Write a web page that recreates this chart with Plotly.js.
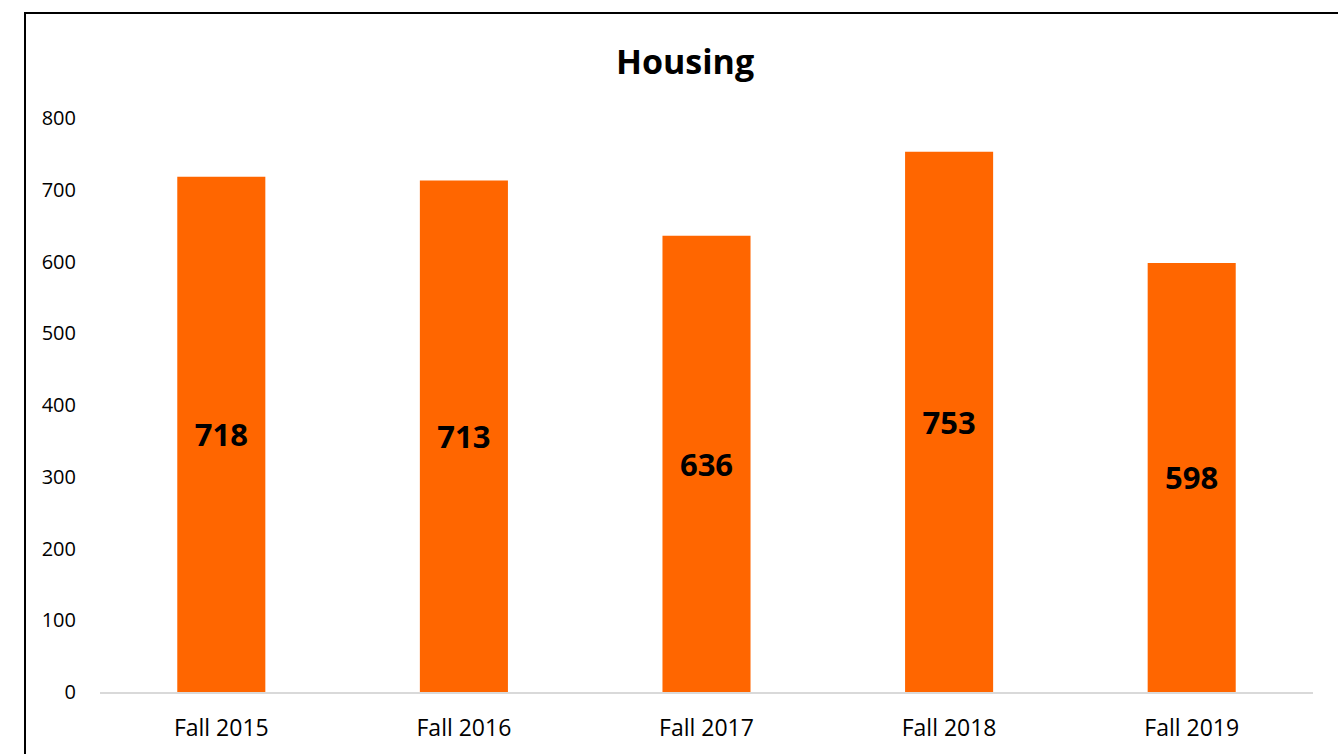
<!DOCTYPE html>
<html><head><meta charset="utf-8">
<script src="https://cdn.plot.ly/plotly-3.0.1.min.js"></script>
<style>
html,body{margin:0;padding:0;background:#fff;overflow:hidden;}
#chart{width:1338px;height:754px;position:absolute;left:0;top:0;}
#frame{position:absolute;left:24px;top:12px;width:1400px;height:800px;border:2px solid #000;pointer-events:none;box-sizing:border-box;}
</style></head>
<body>
<div id="chart"></div>
<div id="frame"></div>
<script>
const categories = ["Fall 2015","Fall 2016","Fall 2017","Fall 2018","Fall 2019"];
const values = [718, 713, 636, 753, 598];
const yTicks = [0,100,200,300,400,500,600,700,800];

const font = "Open Sans, Liberation Sans, sans-serif";
Plotly.newPlot('chart', [{
  type: 'bar',
  x: categories,
  y: values,
  text: values.map(String),
  textposition: 'inside',
  insidetextanchor: 'middle',
  textangle: 0,
  textfont: {family: font, size: 31, color: '#000', weight: 'bold'},
  marker: {color: '#FF6600'},
  hoverinfo: 'none'
}], {
  width: 1338, height: 754,
  margin: {l: 100, r: 25, t: 118, b: 62},
  paper_bgcolor: '#fff', plot_bgcolor: '#fff',
  bargap: 0.637,
  title: {text: '<b>Housing</b>', font: {family: font, size: 34, color: '#000'}, x: 0.512, xanchor: 'center', y: 0.918, yanchor: 'middle'},
  xaxis: {
    type: 'category',
    showgrid: false, showline: true, linecolor: '#d9d9d9', linewidth: 2,
    tickfont: {family: font, size: 23, color: '#000'},
    ticks: '', ticklabelstandoff: 14, zeroline: false
  },
  yaxis: {
    range: [0, 800], tickvals: yTicks, showgrid: false, zeroline: false, showline: false,
    tickfont: {family: font, size: 20, color: '#000'},
    ticks: '', ticklabelstandoff: 23
  },
  showlegend: false
}, {displayModeBar: false, staticPlot: true});
</script>
</body></html>
